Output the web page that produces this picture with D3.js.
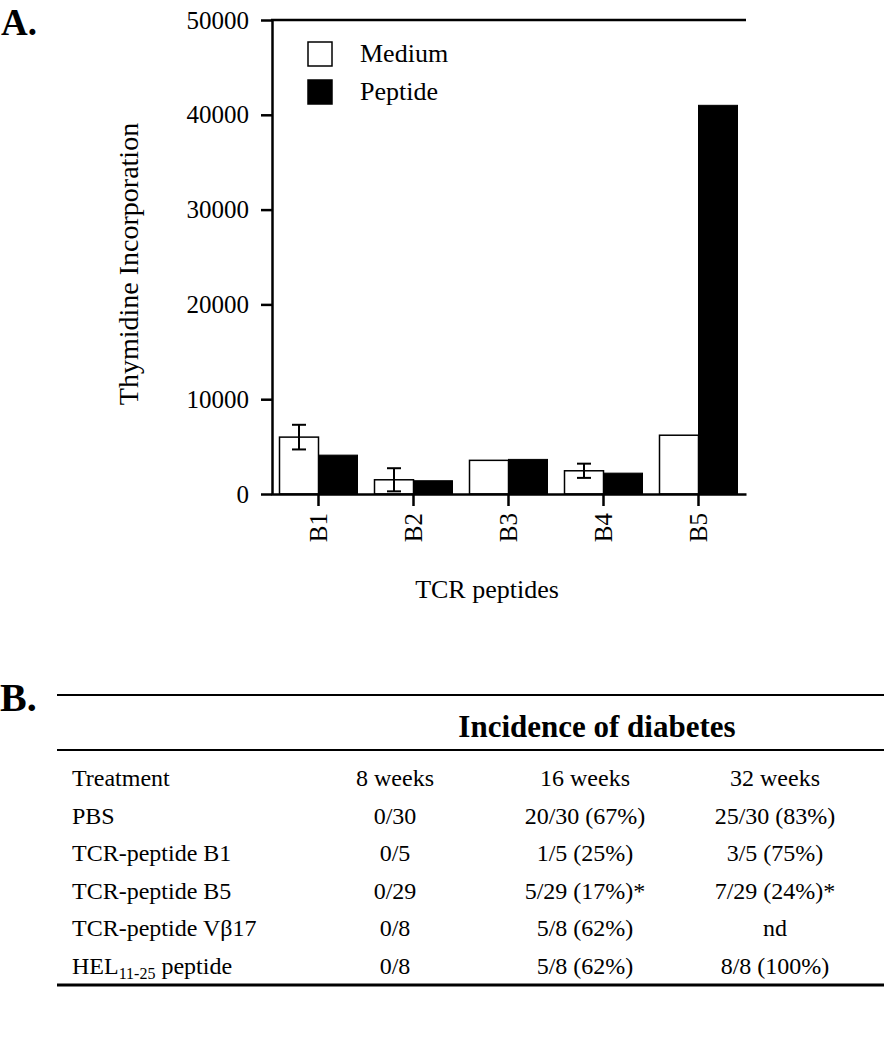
<!DOCTYPE html>
<html><head><meta charset="utf-8">
<script src="https://cdn.jsdelivr.net/npm/d3@7"></script>
<style>
body{margin:0;background:#fff;}
svg text{font-family:"Liberation Serif","Times New Roman",serif;fill:#000;}
</style></head>
<body>
<svg id="c" width="884" height="1050"></svg>
<script>
// ---- Panel A data ----
const categories = ["B1","B2","B3","B4","B5"];
const seriesNames = ["Medium","Peptide"];
const medium = [6000, 1500, 3550, 2450, 6200];
const mediumErr = [1300, 1220, 0, 750, 0];
const peptide = [4100, 1400, 3650, 2200, 41000];
const yTicks = [0,10000,20000,30000,40000,50000];

// ---- Panel B data ----
const tableTitle = "Incidence of diabetes";
const tableHeader = ["Treatment","8 weeks","16 weeks","32 weeks"];
const treatments = ["PBS","TCR-peptide B1","TCR-peptide B5","TCR-peptide Vβ17","HEL|11-25| peptide"];
const weeks8 = ["0/30","0/5","0/29","0/8","0/8"];
const weeks16 = ["20/30 (67%)","1/5 (25%)","5/29 (17%)*","5/8 (62%)","5/8 (62%)"];
const weeks32 = ["25/30 (83%)","3/5 (75%)","7/29 (24%)*","nd","8/8 (100%)"];

const svg = d3.select("#c");

// Panel labels
svg.append("text").attr("x",1).attr("y",35).attr("font-size",37).attr("font-weight","bold").text("A.");
svg.append("text").attr("x",0).attr("y",711).attr("font-size",40).attr("font-weight","bold").text("B.");

// Scales
const x = d3.scaleBand().domain(categories).range([271,746]).paddingInner(0.179).paddingOuter(0.0895);
const x1 = d3.scaleBand().domain(seriesNames).range([0,x.bandwidth()]);
const y = d3.scaleLinear().domain([0,50000]).range([494,20]);

// Bars
const g = svg.append("g");
const groups = g.selectAll("g.grp").data(categories).join("g").attr("class","grp")
  .attr("transform",d=>`translate(${x(d)},0)`);
groups.append("rect").attr("x",x1("Medium")).attr("width",x1.bandwidth())
  .attr("y",(d,i)=>y(medium[i])).attr("height",(d,i)=>y(0)-y(medium[i]))
  .attr("fill","#fff").attr("stroke","#000").attr("stroke-width",1.5);
groups.append("rect").attr("x",x1("Peptide")).attr("width",x1.bandwidth())
  .attr("y",(d,i)=>y(peptide[i])).attr("height",(d,i)=>y(0)-y(peptide[i]))
  .attr("fill","#000").attr("stroke","#000").attr("stroke-width",1);
// Error bars
groups.each(function(d,i){
  if(!mediumErr[i]) return;
  const cx = x1("Medium")+x1.bandwidth()/2;
  const sel = d3.select(this).append("g").attr("stroke","#000").attr("stroke-width",2);
  sel.append("line").attr("x1",cx).attr("x2",cx).attr("y1",y(medium[i]+mediumErr[i])).attr("y2",y(medium[i]-mediumErr[i]));
  [medium[i]+mediumErr[i], medium[i]-mediumErr[i]].forEach(v=>{
    sel.append("line").attr("x1",cx-7).attr("x2",cx+7).attr("y1",y(v)).attr("y2",y(v));
  });
});

// Axes
const yAxis = svg.append("g").attr("transform","translate(272,0)")
  .call(d3.axisLeft(y).tickValues(yTicks).tickSize(11).tickSizeOuter(0).tickPadding(12).tickFormat(d3.format("d")));
yAxis.selectAll("text").attr("font-size",25).style("font-family","Liberation Serif");
yAxis.selectAll("line,path").attr("stroke","#000").attr("stroke-width",2.5);

const xAxis = svg.append("g").attr("transform","translate(0,494)")
  .call(d3.axisBottom(x).tickSize(12).tickSizeOuter(0));
xAxis.selectAll("line,path").attr("stroke","#000").attr("stroke-width",2.5);
xAxis.selectAll("text").attr("font-size",25).style("font-family","Liberation Serif")
  .attr("transform","rotate(-90)").attr("text-anchor","end").attr("x",-19).attr("y",0).attr("dy","0.35em");

// top border
svg.append("line").attr("x1",271).attr("x2",746).attr("y1",20).attr("y2",20).attr("stroke","#000").attr("stroke-width",2.5);

// Axis titles
svg.append("text").attr("transform","translate(138,264) rotate(-90)").attr("text-anchor","middle")
  .attr("font-size",28).text("Thymidine Incorporation");
svg.append("text").attr("x",487).attr("y",598).attr("text-anchor","middle").attr("font-size",26).text("TCR peptides");

// Legend
const leg = svg.append("g");
seriesNames.forEach((s,i)=>{
  leg.append("rect").attr("x",308).attr("y",42+i*38).attr("width",24).attr("height",24)
    .attr("fill",i?"#000":"#fff").attr("stroke","#000").attr("stroke-width",1.5);
  leg.append("text").attr("x",360).attr("y",62+i*38).attr("font-size",26).text(s);
});

// ---- Table ----
const tx0 = 57, tx1 = 884;
const rule = (yy,w)=>svg.append("line").attr("x1",tx0).attr("x2",tx1).attr("y1",yy).attr("y2",yy).attr("stroke","#000").attr("stroke-width",w);
rule(695,2);
rule(750,2);
rule(985,3);
svg.append("text").attr("x",597).attr("y",737).attr("text-anchor","middle").attr("font-size",31)
  .attr("font-weight","bold").text(tableTitle);
const colX = [72,395,585,775];
const rowY0 = 786, rowStep = 37.5;
const cols = [treatments,weeks8,weeks16,weeks32];
tableHeader.forEach((h,j)=>{
  svg.append("text").attr("x",colX[j]).attr("y",rowY0).attr("text-anchor",j?"middle":"start").attr("font-size",24).text(h);
});
cols.forEach((col,j)=>{
  col.forEach((v,i)=>{
    const t = svg.append("text").attr("x",colX[j]).attr("y",rowY0+(i+1)*rowStep)
      .attr("text-anchor",j?"middle":"start").attr("font-size",24);
    const parts = v.split("|");
    if(parts.length===3){
      t.append("tspan").text(parts[0]);
      t.append("tspan").attr("font-size",16).attr("dy",5).text(parts[1]);
      t.append("tspan").attr("dy",-5).text(parts[2]);
    } else t.text(v);
  });
});
</script>
</body></html>
